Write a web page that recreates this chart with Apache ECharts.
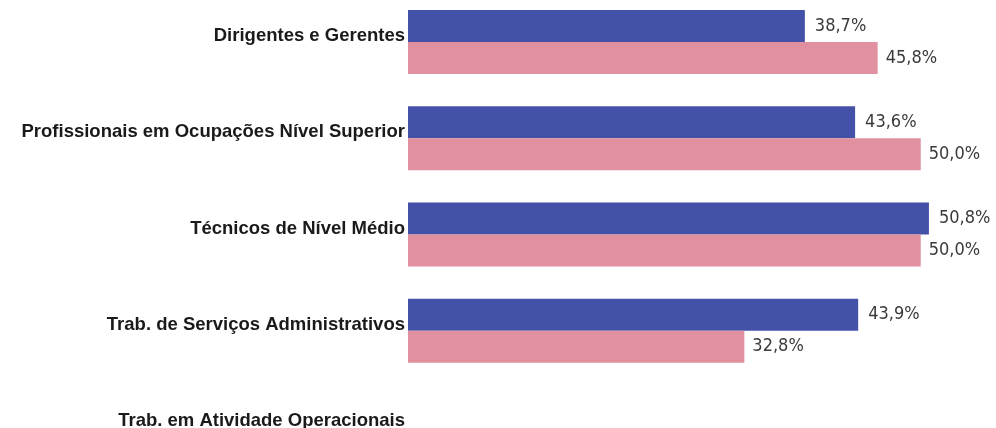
<!DOCTYPE html>
<html>
<head>
<meta charset="utf-8">
<script src="https://cdn.jsdelivr.net/npm/echarts@6/dist/echarts.min.js"></script>
<style>
html,body{margin:0;padding:0;background:#fff;}
#chart{width:996px;height:428px;}
</style>
</head>
<body>
<div id="chart"></div>
<script>
const categories = [
  'Dirigentes e Gerentes',
  'Profissionais em Ocupações Nível Superior',
  'Técnicos de Nível Médio',
  'Trab. de Serviços Administrativos',
  'Trab. em Atividade Operacionais'
];
const seriesBlue = [38.7, 43.6, 50.8, 43.9, null];
const seriesPink = [45.8, 50.0, 50.0, 32.8, null];

const chart = echarts.init(document.getElementById('chart'));
const labelFmt = p => p.value == null ? '' : p.value.toFixed(1).replace('.', ',') + '%';
chart.setOption({
  animation: false,
  grid: { left: 408, top: -6, width: 564, height: 481, containLabel: false, outerBoundsMode: 'none' },
  xAxis: { type: 'value', min: 0, max: 55, show: false },
  yAxis: {
    type: 'category',
    data: categories,
    inverse: true,
    axisLine: { show: false },
    axisTick: { show: false },
    axisLabel: {
      fontFamily: 'Liberation Sans, Arial, sans-serif',
      fontWeight: 'bold',
      fontSize: 18.5,
      color: '#1a1a1a',
      margin: 3,
      verticalAlign: 'bottom',
      lineHeight: 12
    }
  },
  series: [
    {
      type: 'bar', data: seriesBlue, barWidth: 32, barGap: '0%',
      itemStyle: { color: '#4351A8' },
      label: { show: true, position: 'right', distance: 10, formatter: labelFmt,
        fontFamily: 'DejaVu Sans Condensed, sans-serif', fontSize: 18, color: '#3a3a3a' }
    },
    {
      type: 'bar', data: seriesPink, barWidth: 32,
      itemStyle: { color: '#E0909E' },
      label: { show: true, position: 'right', distance: 8, formatter: labelFmt,
        fontFamily: 'DejaVu Sans Condensed, sans-serif', fontSize: 18, color: '#3a3a3a' }
    }
  ]
});
</script>
</body>
</html>
